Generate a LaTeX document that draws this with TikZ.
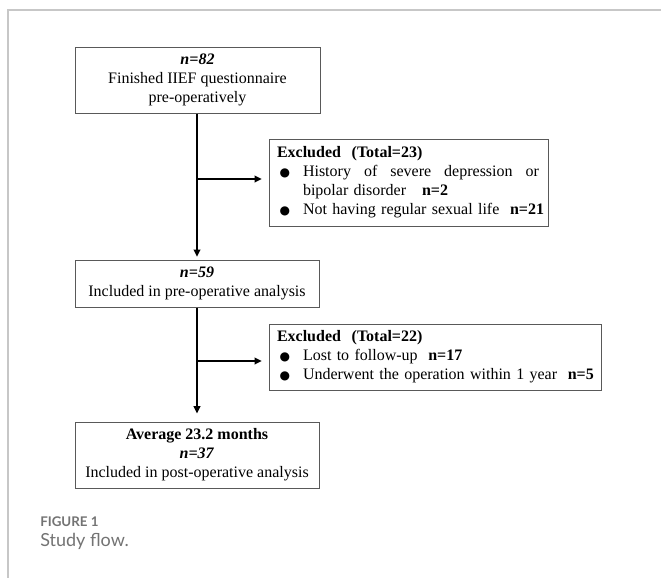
\documentclass[tikz,border=0pt]{standalone}
\usepackage{fontspec}
\setmainfont{Liberation Serif}
\newfontfamily\capfont{Lato}
\newfontfamily\symfont{DejaVu Sans}
\usetikzlibrary{arrows.meta}

\newcommand{\bul}{\hspace*{2pt}\makebox[17.5pt][l]{\raisebox{0.5pt}{\symfont\fontsize{9}{9}\selectfont ●}}}
\newcommand{\excind}{\hspace*{19.5pt}}

\begin{document}
\begin{tikzpicture}[x=0.75pt,y=-0.75pt]
	\useasboundingbox (0,0) rectangle (661,578);
	% figure frame
	\draw[line width=1pt,black!22] (8,578) -- (8,10) -- (661,10);
	\begin{scope}[every node/.style={draw=black!65,line width=0.75pt,inner sep=0pt,
			font=\fontsize{12}{14.25}\selectfont}]
		\node[minimum width=183.75pt,minimum height=49.5pt,align=center] (fin) at (197.5,80)
			{\textbf{\textit{n=82}}\\Finished IIEF questionnaire\\pre-operatively};
		\node[minimum width=183pt,minimum height=35.25pt,align=center] (inc) at (197,283.5)
			{\textbf{\textit{n=59}}\\Included in pre-operative analysis};
		\node[minimum width=183pt,minimum height=49.5pt,align=center] (res) at (197,455)
			{\textbf{Average 23.2 months}\\\textbf{\textit{n=37}}\\Included in post-operative analysis};
		\node[text width=197.25pt,inner xsep=6pt,minimum height=65.25pt,align=left] (exc1) at (408.5,182.5)
			{\mbox{\textbf{Excluded\ \ (Total=23)}}\\
			\mbox{\bul\makebox[177pt]{History\hfill of\hfill severe\hfill depression\hfill or}}\\
			\mbox{\excind bipolar disorder\ \ \ \textbf{n=2}}\\
			\mbox{\bul Not having regular sexual life\ \ \textbf{n=21}}};
		\node[text width=237pt,inner xsep=6pt,minimum height=49.5pt,align=left] (exc2) at (435,357)
			{\mbox{\textbf{Excluded\ \ (Total=22)}}\\
			\mbox{\bul Lost to follow-up\ \ \textbf{n=17}}\\
			\mbox{\bul Underwent the operation within 1 year\ \ \textbf{n=5}}};
	\end{scope}
	\coordinate (j1) at (197,179);
	\coordinate (j2) at (197,361);
	\begin{scope}[>={Triangle[length=5.5pt,width=5pt]},
			every edge/.style={draw,line width=1.5pt}]
		\path [->] (fin.south -| j1) edge[shorten >=2pt] (inc.north -| j1);
		\path [->] (j1) edge[shorten >=5pt] (j1 -| exc1.west);
		\path [->] (inc.south -| j2) edge[shorten >=6pt] (res.north -| j2);
		\path [->] (j2) edge[shorten >=5pt] (j2 -| exc2.west);
	\end{scope}
	% caption
	\node[anchor=base west,inner sep=0pt,text=black!55,
		font=\capfont\bfseries\fontsize{10}{12}\selectfont] (figlab) at (40,526) {FIGURE 1};
	\node[anchor=base west,inner sep=0pt,text=black!55,
		font=\capfont\fontsize{13.5}{16}\selectfont] (figcap) at (40,546) {Study flow.};
\end{tikzpicture}
\end{document}
